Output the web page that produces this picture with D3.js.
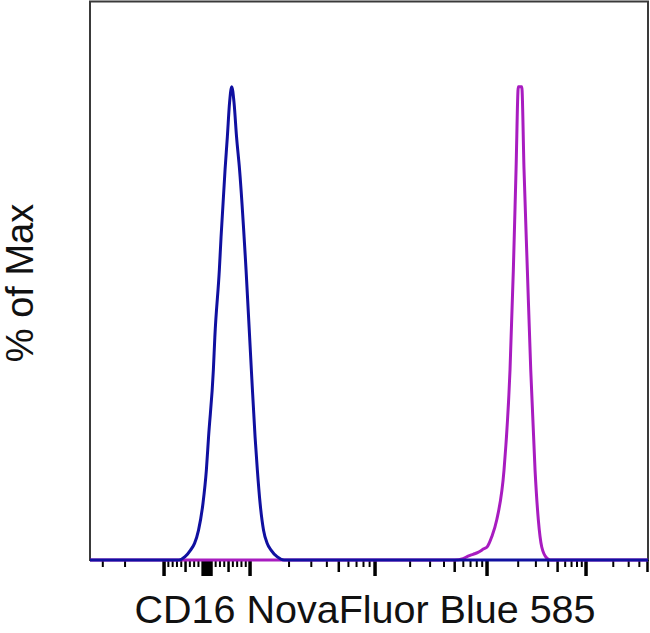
<!DOCTYPE html>
<html>
<head>
<meta charset="utf-8">
<script src="https://cdn.jsdelivr.net/npm/d3@7"></script>
<style>
  html, body { margin: 0; padding: 0; background: #fff; }
  svg { display: block; }
</style>
</head>
<body>
<svg id="chart" width="650" height="633"></svg>
<script>
// ---------------- data ----------------
const xLabel = "CD16 NovaFluor Blue 585";
const yLabel = "% of Max";

// blue population: fluorescence intensity vs % of max
const blueX = [-3800, -800, -651, -512, -384, -291, -198, -93, -16, 35, 147, 181, 286, 326, 419, 472, 523, 574,
               628, 686, 756, 907, 1023, 1092, 1137, 1192, 1268, 1349, 1449, 1612, 1828, 2300, 5070000];
const blueY = [0, 0, 0, 0.7, 2.1, 3.5, 6.3, 12.1, 19.0, 26.0, 40.2, 47.1, 61.3, 68.3, 82.5, 89.4, 96.6, 100,
               96.6, 89.4, 82.5, 61.3, 40.2, 26.0, 19.0, 12.1, 6.3, 3.6, 2.1, 0.7, 0, 0, 0];

// CD16 stained population (magenta)
const magentaX = [-3800, 50000, 59640, 66340, 73860, 82220, 92240, 101100, 110800, 123800, 145400, 166300,
                  179200, 190500, 200600, 216800, 228300, 246400, 266300, 294200, 317500, 343900, 386600,
                  420000, 5070000];
const magentaY = [0, 0, 0.3, 0.8, 1.2, 1.6, 2.3, 2.9, 4.9, 8.5, 19.0, 40.2,
                  61.3, 82.5, 100, 100, 82.5, 61.3, 40.2, 19.0, 8.5, 2.75, 0.4,
                  0, 0];

// axis extents
const xDomain = [-3800, 5070000];
const yMaxPct = 118;

// tick definitions (biexponential axis, no labels)
const majorTicks = [-1000, 0, 1000, 10000, 100000, 1000000];
const nearZeroSteps = [10, 20, 30, 40, 50, 60, 70, 80, 90];
const posDecades = [100, 1000, 10000, 100000, 1000000];
const negDecades = [100, 1000];
const tickMultipliers = [2, 3, 4, 5, 6, 7, 8, 9];

// ---------------- transform ----------------
const A = 3.0582, B = 0.1512;
function biex(v) {
  const a = Math.abs(v);
  if (a <= 1000) return v / 1000;
  const d = Math.log10(a) - 3;
  return Math.sign(v) * (1 + A * d - B * d * d);
}

const pLeft = 90, pRight = 648, pTop = 1.5, pBottom = 560;
const x = d3.scaleLinear().domain(xDomain.map(biex)).range([pLeft, pRight]);
const y = d3.scaleLinear().domain([0, yMaxPct]).range([pBottom, pTop]);
const X = v => x(biex(v));

const svg = d3.select("#chart");

// frame
svg.append("rect")
  .attr("x", pLeft).attr("y", pTop)
  .attr("width", pRight - pLeft).attr("height", pBottom - pTop)
  .attr("fill", "none").attr("stroke", "#3a3a3a").attr("stroke-width", 2);

// ticks
const ticks = [];
majorTicks.forEach(v => ticks.push({v, kind: "major"}));
nearZeroSteps.forEach(v => { ticks.push({v, kind: "major"}); ticks.push({v: -v, kind: "major"}); });
posDecades.forEach(dec => tickMultipliers.forEach(m => {
  if (m * dec < 1000 || dec >= 1000) ticks.push({v: m * dec, kind: m === 5 ? "mid" : "minor"});
}));
negDecades.forEach(dec => tickMultipliers.forEach(m => {
  ticks.push({v: -m * dec, kind: m === 5 ? "mid" : "minor"});
}));
const tickLen = {major: 16, mid: 12, minor: 7};
const tickW = {major: 3.5, mid: 2.5, minor: 2};
svg.append("g").selectAll("line")
  .data(ticks.filter(t => t.v >= xDomain[0] && t.v <= xDomain[1]))
  .join("line")
  .attr("x1", d => X(d.v)).attr("x2", d => X(d.v))
  .attr("y1", pBottom).attr("y2", d => pBottom + tickLen[d.kind])
  .attr("stroke", "#000").attr("stroke-width", d => tickW[d.kind]);

// series
const line = (xs, ys) => d3.line()
  .x((d, i) => X(xs[i]))
  .y((d, i) => y(ys[i]))
  .curve(d3.curveMonotoneX)(xs);

svg.append("path")
  .attr("d", line(magentaX, magentaY))
  .attr("fill", "none").attr("stroke", "#a81cc0").attr("stroke-width", 3)
  .attr("stroke-linejoin", "round");

svg.append("path")
  .attr("d", line(blueX, blueY))
  .attr("fill", "none").attr("stroke", "#1010a0").attr("stroke-width", 3)
  .attr("stroke-linejoin", "round");

// labels
svg.append("text")
  .attr("x", 365).attr("y", 623)
  .attr("text-anchor", "middle")
  .attr("font-family", "'Liberation Sans', Arial, sans-serif")
  .attr("font-size", 39.5).attr("fill", "#111")
  .text(xLabel);

svg.append("text")
  .attr("transform", "translate(33,283) rotate(-90)")
  .attr("text-anchor", "middle")
  .attr("font-family", "'Liberation Sans', Arial, sans-serif")
  .attr("font-size", 38).attr("fill", "#111")
  .text(yLabel);
</script>
</body>
</html>
